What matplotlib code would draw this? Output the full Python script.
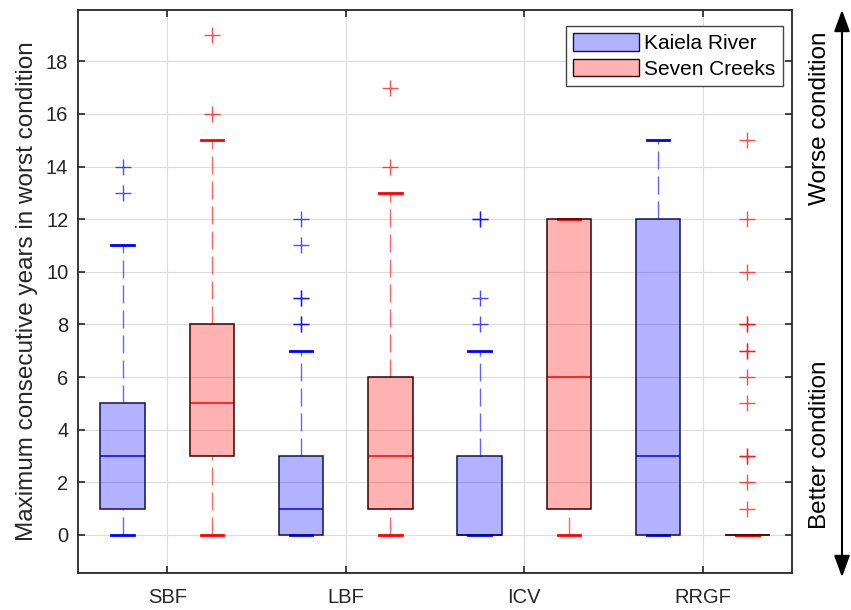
import numpy as np
import matplotlib.pyplot as plt
from matplotlib.patches import Patch, FancyArrowPatch, ArrowStyle

plt.rcParams['font.family'] = ['Liberation Sans', 'DejaVu Sans']

# Categories and series
groups = ['SBF', 'LBF', 'ICV', 'RRGF']
series = ['Kaiela River', 'Seven Creeks']

# Box statistics (q1, median, q3, whisker low, whisker high)
kaiela_q1 = [1, 0, 0, 0]
kaiela_med = [3, 1, 0, 3]
kaiela_q3 = [5, 3, 3, 12]
kaiela_wlo = [0, 0, 0, 0]
kaiela_whi = [11, 7, 7, 15]
kaiela_out = [[13, 14], [8, 8, 9, 9, 11, 12], [8, 9, 12, 12], []]

seven_q1 = [3, 1, 1, 0]
seven_med = [5, 3, 6, 0]
seven_q3 = [8, 6, 12, 0]
seven_wlo = [0, 0, 0, 0]
seven_whi = [15, 13, 12, 0]
seven_out = [[16, 19], [14, 17], [], [1, 2, 3, 3, 5, 6, 7, 7, 8, 8, 10, 12, 15]]


def make_stats(q1, med, q3, wlo, whi, out):
    stats = []
    for i in range(len(q1)):
        stats.append(dict(q1=q1[i], med=med[i], q3=q3[i],
                          whislo=wlo[i], whishi=whi[i], fliers=out[i]))
    return stats


fig = plt.figure(figsize=(8.51, 6.10), dpi=100)
ax = fig.add_axes([78 / 851, 37 / 610, 714 / 851, 563 / 610])

x = np.arange(1, len(groups) + 1)
offset = 0.25
width = 0.25

styles = [
    ('blue', (0, 0, 1, 0.3), '#10105a', make_stats(kaiela_q1, kaiela_med, kaiela_q3,
                                                   kaiela_wlo, kaiela_whi, kaiela_out), -offset),
    ('red', (1, 0, 0, 0.3), '#3a0000', make_stats(seven_q1, seven_med, seven_q3,
                                                  seven_wlo, seven_whi, seven_out), offset),
]

for col, face, edge, stats, off in styles:
    bp = ax.bxp(stats, positions=x + off, widths=width, capwidths=width * 0.5,
                patch_artist=True, showfliers=True,
                boxprops=dict(facecolor=face, edgecolor=edge, linewidth=1.1, zorder=4),
                medianprops=dict(color=col, linewidth=1.1, zorder=3),
                whiskerprops=dict(color=col, linewidth=1, linestyle=(0, (13, 5)),
                                  alpha=0.6, zorder=3),
                capprops=dict(color=col, linewidth=2, zorder=3),
                flierprops=dict(marker='+', markeredgecolor=col, markersize=11,
                                markeredgewidth=1, alpha=0.7, linestyle='none', zorder=3))
    # lower whiskers: start dash pattern at the cap like the original
    for w in bp['whiskers'][0::2]:
        xd, yd = w.get_data()
        w.set_data(xd[::-1], yd[::-1])

ax.set_xlim(0.5, 4.5)
ax.set_ylim(-1.45, 19.95)
ax.set_xticks(x)
ax.set_xticklabels(groups)
ax.set_yticks(np.arange(0, 19, 2))
ax.tick_params(direction='in', top=True, right=True, labelsize=14.5,
               length=5, width=1.2, colors='#262626')
ax.tick_params(axis='x', pad=11)
ax.tick_params(axis='y', pad=7)
ax.grid(True, color='#dcdcdc', linewidth=0.8)
ax.set_axisbelow(True)
for s in ax.spines.values():
    s.set_linewidth(1.3)
    s.set_color('#262626')

ax.set_ylabel('Maximum consecutive years in worst condition', fontsize=17.5,
              color='#262626', labelpad=6)

handles = [Patch(facecolor=(0, 0, 1, 0.3), edgecolor='#10105a', label=series[0]),
           Patch(facecolor=(1, 0, 0, 0.3), edgecolor='#3a0000', label=series[1])]
leg = ax.legend(handles=handles, loc='upper right', fontsize=15, fancybox=False,
                edgecolor='#444444', framealpha=1, handlelength=3.17,
                handleheight=0.91, handletextpad=0.25, labelspacing=0.27,
                borderpad=0.35, borderaxespad=0,
                bbox_to_anchor=(783 / 851, 1 - 26 / 610),
                bbox_transform=fig.transFigure)
leg.get_frame().set_linewidth(1)

# Direction arrow on the right
fig.patches.append(FancyArrowPatch(
    (842 / 851, 1 - 580 / 610), (842 / 851, 1 - 7 / 610),
    transform=fig.transFigure,
    arrowstyle=ArrowStyle('<|-|>', head_length=0.55, head_width=0.2),
    mutation_scale=24, color='black', linewidth=1.5))
fig.text(820 / 851, 1 - 118 / 610, 'Worse condition', rotation=90,
         ha='center', va='center', fontsize=17.5)
fig.text(820 / 851, 1 - 445 / 610, 'Better condition', rotation=90,
         ha='center', va='center', fontsize=17.5)

fig.savefig('out.png', dpi=100)
